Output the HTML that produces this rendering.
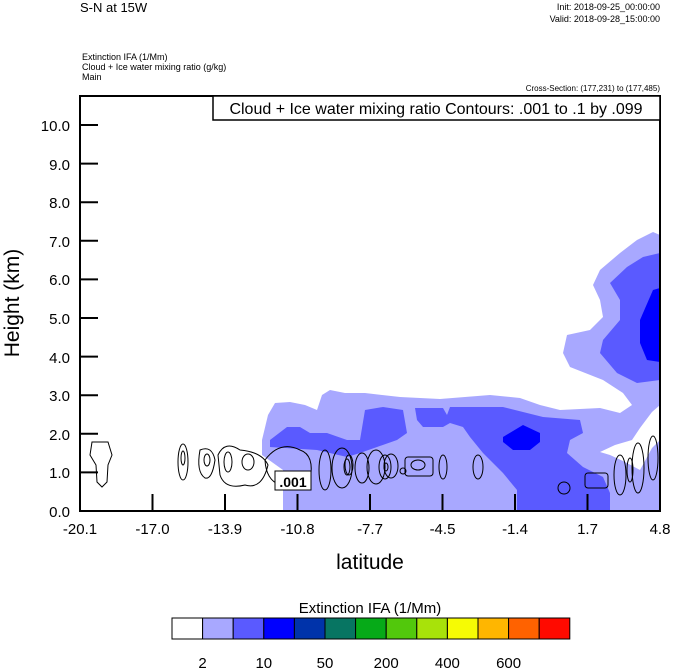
<!DOCTYPE html>
<html><head><style>
body{margin:0;background:#fff;width:674px;height:668px;overflow:hidden}
svg{display:block;font-family:"Liberation Sans",Arial,sans-serif}
</style></head><body>
<svg width="674" height="668" viewBox="0 0 674 668" xmlns="http://www.w3.org/2000/svg">
<rect width="674" height="668" fill="#fff"/>
<text x="80" y="12" font-size="13">S-N at 15W</text>
<text x="660" y="10" font-size="9" text-anchor="end">Init: 2018-09-25_00:00:00</text>
<text x="660" y="22" font-size="9" text-anchor="end">Valid: 2018-09-28_15:00:00</text>
<text x="82" y="60" font-size="9">Extinction IFA   (1/Mm)</text>
<text x="82" y="70" font-size="9">Cloud + Ice water mixing ratio    (g/kg)</text>
<text x="82" y="80" font-size="9">Main</text>
<text x="660" y="91" font-size="8" text-anchor="end">Cross-Section: (177,231) to (177,485)</text>

<!-- light fill -->
<polygon fill="#a8a8ff" points="660,235 653,232 637,240 620,253 600,270 593,285 600,300 603,317 590,330 567,335 563,353 570,367 603,380 623,393 632,405 620,413 600,408 560,410 540,405 520,398 490,395 440,399 400,397 365,393 345,393 330,390 322,395 317,410 305,405 290,402 275,403 268,415 262,440 262,455 283,470 283,511 660,511"/>
<polygon fill="#fff" points="600,452 615,445 632,440 640,428 652,412 660,405 660,440 652,448 640,470 625,462 610,455"/>
<!-- medium -->
<polygon fill="#5a5aff" points="270,440 287,427 300,427 310,433 327,433 347,440 360,440 365,410 383,407 403,410 407,433 397,440 377,447 360,453 347,457 317,450 270,447"/>
<polygon fill="#5a5aff" points="415,408 443,408 447,415 450,407 503,407 543,417 580,420 583,433 570,440 567,453 583,467 603,477 610,493 610,511 517,511 517,490 503,473 483,453 470,437 463,427 450,423 443,427 423,427 417,420"/>
<polygon fill="#5a5aff" points="610,283 627,267 643,257 660,253 660,380 637,383 617,373 600,353 603,340 620,320 620,300"/>
<!-- dark -->
<polygon fill="#0000ff" points="640,320 653,290 660,288 660,362 647,360 640,343"/>
<polygon fill="#0000ff" points="503,437 523,425 540,433 540,442 530,450 513,450 503,442"/>

<!-- contours -->
<g fill="none" stroke="#000" stroke-width="1">
<path d="M92,442 L108,442 L112,455 L108,465 L107,482 L102,487 L97,482 L96,465 L90,455 Z"/>
<ellipse cx="183" cy="462" rx="5" ry="18"/><ellipse cx="183" cy="458" rx="2" ry="7"/>
<path d="M200,450 Q212,445 215,460 Q212,480 205,478 Q196,472 200,450 Z"/><ellipse cx="207" cy="460" rx="3" ry="6"/>
<path d="M218,455 Q225,440 240,450 Q262,452 268,465 Q262,490 245,485 Q225,490 220,475 Z"/>
<ellipse cx="228" cy="462" rx="4" ry="10"/><ellipse cx="248" cy="462" rx="6" ry="8"/>
<path d="M265,460 Q280,440 300,450 Q315,455 310,480 Q300,490 280,485 Q266,480 265,460 Z"/>
<ellipse cx="325" cy="470" rx="6" ry="20"/><ellipse cx="342" cy="468" rx="10" ry="20"/>
<ellipse cx="349" cy="465" rx="4" ry="10"/><ellipse cx="347" cy="467" rx="3" ry="8"/>
<ellipse cx="362" cy="468" rx="7" ry="15"/><ellipse cx="376" cy="467" rx="9" ry="17"/>
<ellipse cx="385" cy="467" rx="6" ry="12"/><ellipse cx="386" cy="467" rx="2" ry="4"/>
<ellipse cx="391" cy="466" rx="7" ry="12"/>
<rect x="405" y="457" width="28" height="19" rx="3"/><ellipse cx="418" cy="465" rx="7" ry="5"/>
<ellipse cx="403" cy="471" rx="3" ry="3"/>
<ellipse cx="443" cy="467" rx="4" ry="12"/><ellipse cx="478" cy="467" rx="5" ry="12"/>
<ellipse cx="564" cy="488" rx="6" ry="6"/>
<rect x="585" y="473" width="23" height="15" rx="3"/>
<ellipse cx="620" cy="475" rx="6" ry="20"/><ellipse cx="638" cy="468" rx="6" ry="25"/>
<ellipse cx="653" cy="458" rx="5" ry="22"/><ellipse cx="630" cy="470" rx="3" ry="12"/>
</g>
<rect x="275" y="471" width="36" height="19" fill="#fff" stroke="#000"/>
<text x="293" y="487" font-size="14" font-weight="bold" text-anchor="middle">.001</text>

<!-- frame -->
<rect x="80" y="96" width="580" height="415" fill="none" stroke="#000" stroke-width="2"/>
<rect x="213" y="96" width="447" height="24" fill="#fff" stroke="#000" stroke-width="1.5"/>
<text x="436" y="114" font-size="16" text-anchor="middle">Cloud + Ice water mixing ratio Contours: .001 to .1 by .099</text>

<!-- ticks -->
<g stroke="#000" stroke-width="2">
<line x1="152.5" y1="511" x2="152.5" y2="494"/><line x1="225" y1="511" x2="225" y2="494"/>
<line x1="297.5" y1="511" x2="297.5" y2="494"/><line x1="370" y1="511" x2="370" y2="494"/>
<line x1="442.5" y1="511" x2="442.5" y2="494"/><line x1="515" y1="511" x2="515" y2="494"/>
<line x1="587.5" y1="511" x2="587.5" y2="494"/>
<line x1="80" y1="472.4" x2="98" y2="472.4"/><line x1="80" y1="433.8" x2="98" y2="433.8"/>
<line x1="80" y1="395.2" x2="98" y2="395.2"/><line x1="80" y1="356.6" x2="98" y2="356.6"/>
<line x1="80" y1="318" x2="98" y2="318"/><line x1="80" y1="279.4" x2="98" y2="279.4"/>
<line x1="80" y1="240.8" x2="98" y2="240.8"/><line x1="80" y1="202.2" x2="98" y2="202.2"/>
<line x1="80" y1="163.6" x2="98" y2="163.6"/><line x1="80" y1="125" x2="98" y2="125"/>
</g>
<g font-size="15" text-anchor="end">
<text x="70" y="517">0.0</text><text x="70" y="478">1.0</text><text x="70" y="440">2.0</text>
<text x="70" y="401">3.0</text><text x="70" y="363">4.0</text><text x="70" y="324">5.0</text>
<text x="70" y="285">6.0</text><text x="70" y="247">7.0</text><text x="70" y="208">8.0</text>
<text x="70" y="170">9.0</text><text x="70" y="131">10.0</text>
</g>
<g font-size="15" text-anchor="middle">
<text x="80" y="534">-20.1</text><text x="152.5" y="534">-17.0</text><text x="225" y="534">-13.9</text>
<text x="297.5" y="534">-10.8</text><text x="370" y="534">-7.7</text><text x="442.5" y="534">-4.5</text>
<text x="515" y="534">-1.4</text><text x="587.5" y="534">1.7</text><text x="660" y="534">4.8</text>
</g>
<text x="370" y="569" font-size="21" text-anchor="middle">latitude</text>
<text transform="translate(19,303) rotate(-90)" font-size="21" text-anchor="middle">Height (km)</text>

<!-- colorbar -->
<text x="370" y="613" font-size="15" text-anchor="middle">Extinction IFA  (1/Mm)</text>
<g stroke="#000" stroke-width="1">
<rect x="172" y="618" width="30.6" height="21" fill="#ffffff"/>
<rect x="202.6" y="618" width="30.6" height="21" fill="#a8a8ff"/>
<rect x="233.2" y="618" width="30.6" height="21" fill="#5a5aff"/>
<rect x="263.8" y="618" width="30.6" height="21" fill="#0000ff"/>
<rect x="294.4" y="618" width="30.6" height="21" fill="#0033aa"/>
<rect x="325" y="618" width="30.6" height="21" fill="#077562"/>
<rect x="355.6" y="618" width="30.6" height="21" fill="#06aa18"/>
<rect x="386.2" y="618" width="30.6" height="21" fill="#52c80c"/>
<rect x="416.8" y="618" width="30.6" height="21" fill="#a8e20a"/>
<rect x="447.4" y="618" width="30.6" height="21" fill="#f6fb04"/>
<rect x="478" y="618" width="30.6" height="21" fill="#ffb600"/>
<rect x="508.6" y="618" width="30.6" height="21" fill="#ff6200"/>
<rect x="539.2" y="618" width="30.6" height="21" fill="#ff0a00"/>
</g>
<g font-size="15" text-anchor="middle">
<text x="202.6" y="668">2</text><text x="263.8" y="668">10</text><text x="325" y="668">50</text>
<text x="386.2" y="668">200</text><text x="447.4" y="668">400</text><text x="508.6" y="668">600</text>
</g>
</svg>
</body></html>
